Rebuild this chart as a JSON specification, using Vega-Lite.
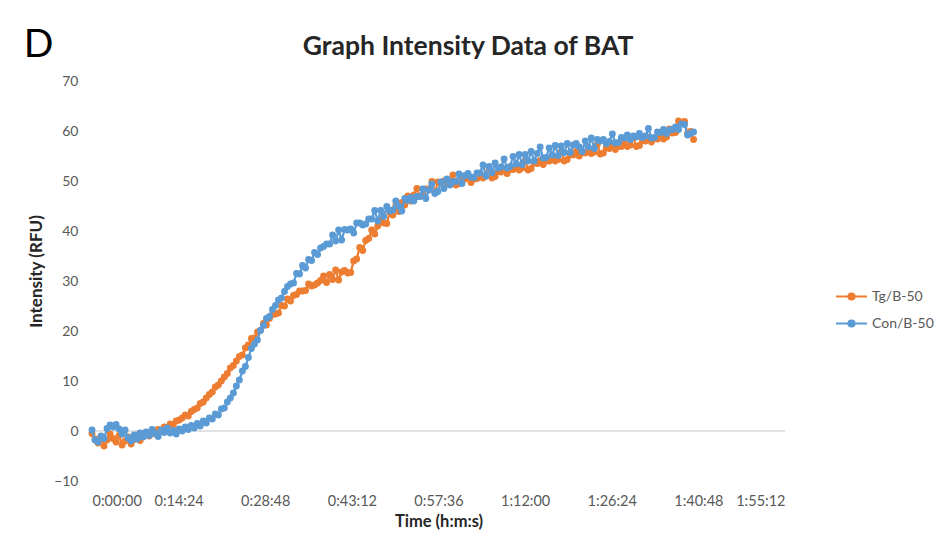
{
"$schema": "https://vega.github.io/schema/vega-lite/v6.json",
"width": 693, "height": 400,
"autosize": "none",
"padding": {"left": 92, "top": 81, "right": 154, "bottom": 72},
"background": "white",
"config": {"view": {"stroke": null}, "font": "Lato"},
"datasets": {
"tg": [
{"t":0,"y":-0.5},{"t":30,"y":-1.6},{"t":60,"y":-2.4},{"t":90,"y":-1.2},{"t":120,"y":-3.0},{"t":150,"y":-1.8},{"t":180,"y":-0.6},{"t":210,"y":-1.5},{"t":240,"y":-2.2},{"t":270,"y":-0.9},
{"t":300,"y":-2.8},{"t":330,"y":-2.0},{"t":360,"y":-1.2},{"t":390,"y":-2.6},{"t":420,"y":-1.7},{"t":450,"y":-0.8},{"t":480,"y":-1.9},{"t":510,"y":-1.1},{"t":540,"y":-0.3},{"t":570,"y":-1.0},
{"t":600,"y":-0.2},{"t":630,"y":-0.6},{"t":660,"y":0.3},{"t":690,"y":0.0},{"t":720,"y":0.8},{"t":750,"y":0.6},{"t":780,"y":1.4},{"t":810,"y":1.2},{"t":840,"y":2.0},{"t":870,"y":2.2},
{"t":900,"y":2.6},{"t":930,"y":3.2},{"t":960,"y":3.0},{"t":990,"y":3.9},{"t":1020,"y":4.3},{"t":1050,"y":4.6},{"t":1080,"y":5.5},{"t":1110,"y":5.8},{"t":1140,"y":6.6},{"t":1170,"y":7.3},
{"t":1200,"y":7.8},{"t":1230,"y":8.8},{"t":1260,"y":9.2},{"t":1290,"y":10.0},{"t":1320,"y":10.8},{"t":1350,"y":11.5},{"t":1380,"y":12.6},{"t":1410,"y":13.1},{"t":1440,"y":14.0},{"t":1470,"y":14.9},
{"t":1500,"y":15.2},{"t":1530,"y":16.6},{"t":1560,"y":17.2},{"t":1590,"y":18.5},{"t":1620,"y":18.6},{"t":1650,"y":19.8},{"t":1680,"y":20.1},{"t":1710,"y":21.5},{"t":1740,"y":21.2},{"t":1770,"y":22.5},
{"t":1800,"y":23.3},{"t":1830,"y":23.4},{"t":1860,"y":23.6},{"t":1890,"y":25.1},{"t":1920,"y":25.0},{"t":1950,"y":26.4},{"t":1980,"y":26.0},{"t":2010,"y":27.1},{"t":2040,"y":27.3},{"t":2070,"y":28.0},
{"t":2100,"y":28.0},{"t":2130,"y":28.1},{"t":2160,"y":29.4},{"t":2190,"y":29.0},{"t":2220,"y":29.2},{"t":2250,"y":29.6},{"t":2280,"y":30.1},{"t":2310,"y":31.0},{"t":2340,"y":29.7},{"t":2370,"y":31.3},
{"t":2400,"y":30.3},{"t":2430,"y":32.2},{"t":2460,"y":30.2},{"t":2490,"y":31.8},{"t":2520,"y":32.1},{"t":2550,"y":31.6},{"t":2580,"y":31.7},{"t":2610,"y":34.0},{"t":2640,"y":34.4},{"t":2670,"y":36.7},
{"t":2700,"y":36.1},{"t":2730,"y":38.1},{"t":2760,"y":38.5},{"t":2790,"y":40.2},{"t":2820,"y":39.4},{"t":2850,"y":41.0},{"t":2880,"y":42.2},{"t":2910,"y":41.6},{"t":2940,"y":41.5},{"t":2970,"y":43.7},
{"t":3000,"y":43.2},{"t":3030,"y":45.1},{"t":3060,"y":43.9},{"t":3090,"y":45.7},{"t":3120,"y":45.2},{"t":3150,"y":47.0},{"t":3180,"y":46.0},{"t":3210,"y":47.2},{"t":3240,"y":48.5},{"t":3270,"y":46.9},
{"t":3300,"y":47.2},{"t":3330,"y":48.4},{"t":3360,"y":48.4},{"t":3390,"y":49.9},{"t":3420,"y":47.7},{"t":3450,"y":49.8},{"t":3480,"y":49.5},{"t":3510,"y":50.0},{"t":3540,"y":49.4},{"t":3570,"y":49.7},
{"t":3600,"y":51.2},{"t":3630,"y":49.2},{"t":3660,"y":49.5},{"t":3690,"y":50.4},{"t":3720,"y":50.4},{"t":3750,"y":50.9},{"t":3780,"y":49.7},{"t":3810,"y":50.4},{"t":3840,"y":50.5},{"t":3870,"y":51.4},
{"t":3900,"y":50.6},{"t":3930,"y":51.0},{"t":3960,"y":52.5},{"t":3990,"y":50.6},{"t":4020,"y":50.9},{"t":4050,"y":51.9},{"t":4080,"y":51.8},{"t":4110,"y":52.4},{"t":4140,"y":51.5},{"t":4170,"y":52.3},
{"t":4200,"y":52.3},{"t":4230,"y":52.9},{"t":4260,"y":52.2},{"t":4290,"y":52.6},{"t":4320,"y":54.1},{"t":4350,"y":52.2},{"t":4380,"y":52.5},{"t":4410,"y":53.6},{"t":4440,"y":53.5},{"t":4470,"y":54.1},
{"t":4500,"y":53.3},{"t":4530,"y":54.0},{"t":4560,"y":54.0},{"t":4590,"y":54.6},{"t":4620,"y":54.0},{"t":4650,"y":54.3},{"t":4680,"y":55.9},{"t":4710,"y":54.0},{"t":4740,"y":54.3},{"t":4770,"y":55.3},
{"t":4800,"y":55.2},{"t":4830,"y":55.9},{"t":4860,"y":55.0},{"t":4890,"y":55.7},{"t":4920,"y":55.6},{"t":4950,"y":56.2},{"t":4980,"y":55.5},{"t":5010,"y":55.8},{"t":5040,"y":57.3},{"t":5070,"y":55.4},
{"t":5100,"y":55.6},{"t":5130,"y":56.6},{"t":5160,"y":56.5},{"t":5190,"y":57.1},{"t":5220,"y":56.3},{"t":5250,"y":57.0},{"t":5280,"y":56.9},{"t":5310,"y":57.6},{"t":5340,"y":56.9},{"t":5370,"y":57.2},
{"t":5400,"y":58.7},{"t":5430,"y":56.9},{"t":5460,"y":57.1},{"t":5490,"y":58.1},{"t":5520,"y":58.0},{"t":5550,"y":58.7},{"t":5580,"y":57.8},{"t":5610,"y":58.5},{"t":5640,"y":58.4},{"t":5670,"y":59.1},
{"t":5700,"y":58.4},{"t":5730,"y":58.8},{"t":5760,"y":60.4},{"t":5790,"y":59.6},{"t":5820,"y":59.7},{"t":5850,"y":62.0},{"t":5880,"y":61.6},{"t":5910,"y":61.9},{"t":5940,"y":59.5},{"t":5970,"y":59.9},
{"t":6000,"y":58.3}
],
"con": [
{"t":0,"y":0.2},{"t":30,"y":-1.8},{"t":60,"y":-2.2},{"t":90,"y":-1.0},{"t":120,"y":-1.5},{"t":150,"y":0.5},{"t":180,"y":1.2},{"t":210,"y":0.8},{"t":240,"y":1.3},{"t":270,"y":0.4},
{"t":300,"y":-0.6},{"t":330,"y":0.2},{"t":360,"y":-1.4},{"t":390,"y":-2.0},{"t":420,"y":-0.8},{"t":450,"y":-1.6},{"t":480,"y":-0.4},{"t":510,"y":-1.2},{"t":540,"y":-0.2},{"t":570,"y":-0.9},
{"t":600,"y":0.3},{"t":630,"y":-0.5},{"t":660,"y":-1.1},{"t":690,"y":0.2},{"t":720,"y":-0.3},{"t":750,"y":0.6},{"t":780,"y":-0.4},{"t":810,"y":0.1},{"t":840,"y":-0.6},{"t":870,"y":0.4},
{"t":900,"y":0.0},{"t":930,"y":0.8},{"t":960,"y":0.3},{"t":990,"y":1.1},{"t":1020,"y":0.6},{"t":1050,"y":1.5},{"t":1080,"y":1.0},{"t":1110,"y":2.0},{"t":1140,"y":1.6},{"t":1170,"y":2.6},
{"t":1200,"y":2.4},{"t":1230,"y":3.4},{"t":1260,"y":3.2},{"t":1290,"y":4.4},{"t":1320,"y":4.6},{"t":1350,"y":5.8},{"t":1380,"y":6.6},{"t":1410,"y":7.6},{"t":1440,"y":9.0},{"t":1470,"y":10.2},
{"t":1500,"y":12.0},{"t":1530,"y":12.9},{"t":1560,"y":14.7},{"t":1590,"y":16.5},{"t":1620,"y":17.4},{"t":1650,"y":18.2},{"t":1680,"y":20.1},{"t":1710,"y":21.1},{"t":1740,"y":22.5},{"t":1770,"y":22.9},
{"t":1800,"y":24.3},{"t":1830,"y":25.1},{"t":1860,"y":26.2},{"t":1890,"y":26.6},{"t":1920,"y":27.9},{"t":1950,"y":28.9},{"t":1980,"y":29.4},{"t":2010,"y":29.6},{"t":2040,"y":31.5},{"t":2070,"y":31.4},
{"t":2100,"y":33.1},{"t":2130,"y":32.6},{"t":2160,"y":34.3},{"t":2190,"y":34.1},{"t":2220,"y":35.7},{"t":2250,"y":35.3},{"t":2280,"y":36.6},{"t":2310,"y":36.9},{"t":2340,"y":37.4},{"t":2370,"y":37.4},
{"t":2400,"y":39.2},{"t":2430,"y":38.0},{"t":2460,"y":40.2},{"t":2490,"y":38.2},{"t":2520,"y":40.3},{"t":2550,"y":40.2},{"t":2580,"y":40.4},{"t":2610,"y":39.6},{"t":2640,"y":41.6},{"t":2670,"y":41.6},
{"t":2700,"y":41.2},{"t":2730,"y":41.4},{"t":2760,"y":42.4},{"t":2790,"y":42.4},{"t":2820,"y":44.1},{"t":2850,"y":42.0},{"t":2880,"y":44.1},{"t":2910,"y":42.9},{"t":2940,"y":44.9},{"t":2970,"y":44.0},
{"t":3000,"y":44.2},{"t":3030,"y":46.0},{"t":3060,"y":45.0},{"t":3090,"y":44.0},{"t":3120,"y":46.5},{"t":3150,"y":46.1},{"t":3180,"y":46.7},{"t":3210,"y":46.0},{"t":3240,"y":46.9},{"t":3270,"y":46.9},
{"t":3300,"y":48.4},{"t":3330,"y":46.5},{"t":3360,"y":48.2},{"t":3390,"y":49.4},{"t":3420,"y":47.5},{"t":3450,"y":47.9},{"t":3480,"y":49.8},{"t":3510,"y":48.5},{"t":3540,"y":50.4},{"t":3570,"y":49.2},
{"t":3600,"y":49.9},{"t":3630,"y":49.9},{"t":3660,"y":51.4},{"t":3690,"y":49.5},{"t":3720,"y":51.1},{"t":3750,"y":51.5},{"t":3780,"y":50.8},{"t":3810,"y":50.7},{"t":3840,"y":51.6},{"t":3870,"y":51.6},
{"t":3900,"y":53.2},{"t":3930,"y":51.0},{"t":3960,"y":52.9},{"t":3990,"y":51.7},{"t":4020,"y":53.6},{"t":4050,"y":52.6},{"t":4080,"y":52.8},{"t":4110,"y":54.4},{"t":4140,"y":52.6},{"t":4170,"y":52.9},
{"t":4200,"y":54.9},{"t":4230,"y":53.4},{"t":4260,"y":55.3},{"t":4290,"y":53.3},{"t":4320,"y":55.3},{"t":4350,"y":54.0},{"t":4380,"y":55.9},{"t":4410,"y":54.0},{"t":4440,"y":55.5},{"t":4470,"y":56.8},
{"t":4500,"y":54.6},{"t":4530,"y":54.7},{"t":4560,"y":56.6},{"t":4590,"y":55.2},{"t":4620,"y":57.1},{"t":4650,"y":55.1},{"t":4680,"y":57.0},{"t":4710,"y":55.7},{"t":4740,"y":57.5},{"t":4770,"y":55.7},
{"t":4800,"y":57.2},{"t":4830,"y":57.5},{"t":4860,"y":56.8},{"t":4890,"y":55.9},{"t":4920,"y":58.0},{"t":4950,"y":56.8},{"t":4980,"y":58.6},{"t":5010,"y":56.5},{"t":5040,"y":58.3},{"t":5070,"y":58.0},
{"t":5100,"y":58.3},{"t":5130,"y":57.5},{"t":5160,"y":57.9},{"t":5190,"y":59.4},{"t":5220,"y":57.6},{"t":5250,"y":57.7},{"t":5280,"y":58.7},{"t":5310,"y":58.6},{"t":5340,"y":59.2},{"t":5370,"y":58.3},
{"t":5400,"y":59.0},{"t":5430,"y":58.8},{"t":5460,"y":59.5},{"t":5490,"y":58.7},{"t":5520,"y":59.0},{"t":5550,"y":60.5},{"t":5580,"y":58.6},{"t":5610,"y":58.7},{"t":5640,"y":59.8},{"t":5670,"y":59.7},
{"t":5700,"y":60.3},{"t":5730,"y":59.5},{"t":5760,"y":60.2},{"t":5790,"y":60.3},{"t":5820,"y":60.8},{"t":5850,"y":60.3},{"t":5880,"y":61.4},{"t":5910,"y":61.3},{"t":5940,"y":59.2},{"t":5970,"y":59.5},
{"t":6000,"y":59.8}
]
},
"encoding": {
  "x": {"field": "t", "type": "quantitative", "scale": {"domain": [0, 6912], "nice": false},
        "axis": {"values": [0,864,1728,2592,3456,4320,5184,6048,6912],
                 "labelExpr": "floor(datum.value/3600) + ':' + (floor(datum.value/60)%60 < 10 ? '0' : '') + (floor(datum.value/60)%60) + ':' + (datum.value%60 < 10 ? '0' : '') + (datum.value%60)",
                 "title": "Time (h:m:s)", "grid": false, "domain": false, "ticks": false,
                 "labelPadding": 13, "labelFontSize": 14.5, "labelColor": "#595959", "labelFont": "Lato",
                 "titleFontSize": 16.5, "titleFontWeight": "bold", "titleColor": "#262626", "titleFont": "Lato", "titlePadding": 6}},
  "y": {"field": "y", "type": "quantitative", "scale": {"domain": [-10, 70], "nice": false},
        "axis": {"values": [-10,0,10,20,30,40,50,60,70], "grid": false, "domain": false, "ticks": false,
                 "labelPadding": 14, "labelFontSize": 14, "labelColor": "#595959", "labelFont": "Lato",
                 "title": "Intensity (RFU)", "titleFontSize": 17, "titleFontWeight": "bold", "titleColor": "#262626", "titleFont": "Lato", "titlePadding": 8, "titleY": 190}}
},
"layer": [
  {"data": {"values": [{"z": 0}]}, "mark": {"type": "rule", "color": "#d9d9d9", "strokeWidth": 1.3}, "encoding": {"x": null, "y": {"field": "z", "type": "quantitative"}}},
  {"data": {"name": "tg"},
   "mark": {"type": "line", "strokeWidth": 2.25, "point": {"filled": true, "size": 48}},
   "encoding": {"color": {"datum": "Tg/B-50", "type": "nominal",
      "scale": {"domain": ["Tg/B-50", "Con/B-50"], "range": ["#ED7D31", "#5B9BD5"]},
      "legend": {"title": null, "orient": "none", "legendX": 743, "legendY": 199,
                 "symbolType": "M-1,0H1M-0.2,0A0.2,0.2,0,1,1,0.2,0A0.2,0.2,0,1,1,-0.2,0Z",
                 "symbolSize": 961, "symbolStrokeWidth": 2, "labelFontSize": 14, "labelColor": "#595959", "labelFont": "Lato",
                 "labelOffset": 4, "rowPadding": 3,
                 "encode": {"symbols": {"update": {"fill": {"scale": "color", "field": "value"}, "stroke": {"scale": "color", "field": "value"}}}}}}}},
  {"data": {"name": "con"},
   "mark": {"type": "line", "strokeWidth": 2.25, "point": {"filled": true, "size": 48}},
   "encoding": {"color": {"datum": "Con/B-50", "type": "nominal"}}},
  {"data": {"values": [{"lx": -680, "ly": 74.8, "lab": "D"}]},
   "mark": {"type": "text", "fontSize": 39, "align": "left", "baseline": "alphabetic", "font": "Lato", "color": "#000000"},
   "encoding": {"x": {"field": "lx", "type": "quantitative"}, "y": {"field": "ly", "type": "quantitative"}, "text": {"field": "lab"}}},
  {"data": {"values": [{"lx": 3751, "ly": 75.2, "lab": "Graph Intensity Data of BAT"}]},
   "mark": {"type": "text", "fontSize": 26.5, "fontWeight": "bold", "align": "center", "baseline": "alphabetic", "font": "Lato", "color": "#262626"},
   "encoding": {"x": {"field": "lx", "type": "quantitative"}, "y": {"field": "ly", "type": "quantitative"}, "text": {"field": "lab"}}}
]
}
